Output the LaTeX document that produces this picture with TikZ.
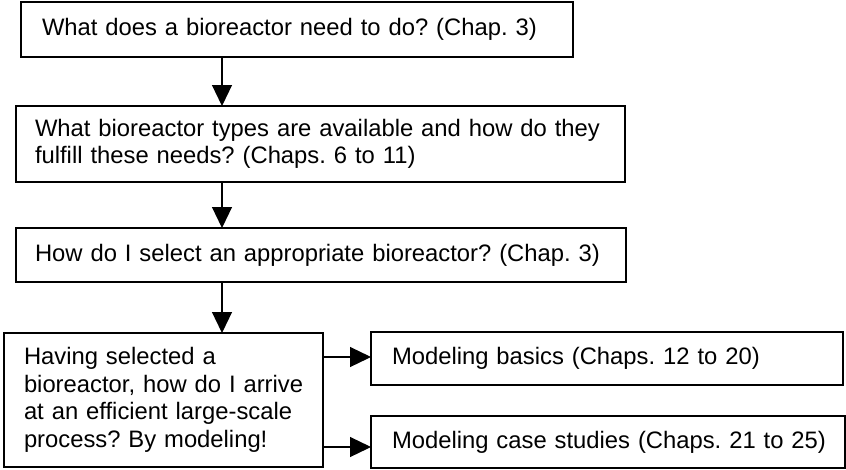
\documentclass[tikz,border=0pt]{standalone}
\usepackage{fontspec}
\setmainfont{Liberation Sans}
\usetikzlibrary{arrows.meta}
\begin{document}
\frenchspacing
\begin{tikzpicture}[x=1pt,y=-1pt,
  box/.style={draw, line width=1.2pt, anchor=north west, outer sep=0pt,
    inner ysep=0pt, align=left, font=\fontsize{23.8}{27.5}\selectfont\frenchspacing},
  arr/.style={line width=1.2pt, -{Triangle[width=20pt,length=21pt]}}]
\useasboundingbox (0,0) rectangle (846,469);
\node[box, inner xsep=21pt, text width=510pt, minimum height=55pt] (b1) at (21,2)
  {\mbox{What does a bioreactor need to do? (Chap. 3)}};
\node[box, inner xsep=19pt, text width=571pt, minimum height=76pt] (b2) at (16,106)
  {\mbox{What bioreactor types are available and how do they}\\\mbox{fulfill these needs? (Chaps. 6 to 11)}};
\node[box, inner xsep=19pt, text width=572pt, minimum height=54pt] (b3) at (16,228)
  {\mbox{How do I select an appropriate bioreactor? (Chap. 3)}};
\node[box, inner xsep=20pt, text width=279pt, minimum height=134pt] (b4) at (4,333)
  {\mbox{Having selected a}\\\mbox{bioreactor, how do I arrive}\\\mbox{at an efficient large-scale}\\\mbox{process? By modeling!}};
\node[box, inner xsep=21pt, text width=430pt, minimum height=53pt] (b5) at (371,332)
  {\mbox{Modeling basics (Chaps. 12 to 20)}};
\node[box, inner xsep=21pt, text width=432pt, minimum height=52pt] (b6) at (371,416)
  {\mbox{Modeling case studies (Chaps. 21 to 25)}};
\coordinate (ax) at (222,0);
\coordinate (ya) at (0,357);
\coordinate (yb) at (0,447);
\draw[arr] (b1.south -| ax) -- (b2.north -| ax);
\draw[arr] (b2.south -| ax) -- (b3.north -| ax);
\draw[arr] (b3.south -| ax) -- (b4.north -| ax);
\draw[arr] (b4.east |- ya) -- (b5.west |- ya);
\draw[arr] (b4.east |- yb) -- (b6.west |- yb);
\end{tikzpicture}
\end{document}
